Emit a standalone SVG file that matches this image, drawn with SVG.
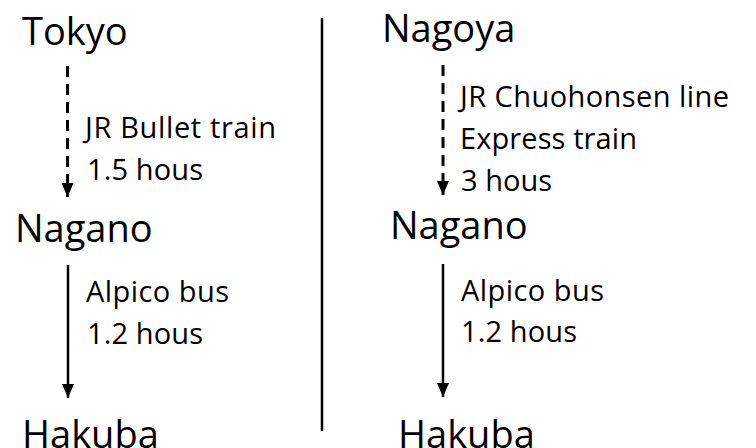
<svg xmlns="http://www.w3.org/2000/svg" width="756" height="448" viewBox="0 0 756 448">
<defs>
<marker id="ah" viewBox="0 0 14 12" refX="14" refY="6" markerWidth="14" markerHeight="12" markerUnits="userSpaceOnUse" orient="auto">
<path d="M0,0 L14,6 L0,12 Z" fill="#000"/>
</marker>
</defs>
<style>
.node{font-family:"Open Sans","Noto Sans",sans-serif;font-size:38px;fill:#000}
.lbl{font-family:"Open Sans","Noto Sans",sans-serif;font-size:29px;fill:#000}
.solid{stroke:#000;stroke-width:2.5;fill:none}
.dash{stroke:#000;stroke-width:3;fill:none;stroke-dasharray:11 7}
</style>
<rect width="756" height="448" fill="#fff"/>
<g id="connectors">
<line class="dash" x1="67.5" y1="66" x2="67.5" y2="197" marker-end="url(#ah)"/>
<line class="solid" x1="68" y1="265" x2="68" y2="398" marker-end="url(#ah)"/>
<line class="dash" x1="443" y1="65" x2="443" y2="195" marker-end="url(#ah)"/>
<line class="solid" x1="443" y1="264" x2="443" y2="397" marker-end="url(#ah)"/>
<line id="divider" class="solid" x1="322" y1="18" x2="322" y2="431"/>
<text class="lbl" x="85" y="138" textLength="191">JR Bullet train</text>
<text class="lbl" x="87" y="180" textLength="116">1.5 hous</text>
<text class="lbl" x="86" y="302" textLength="143">Alpico bus</text>
<text class="lbl" x="87" y="344" textLength="116">1.2 hous</text>
<text class="lbl" x="460" y="107" textLength="269">JR Chuohonsen line</text>
<text class="lbl" x="460" y="149" textLength="177">Express train</text>
<text class="lbl" x="461" y="191" textLength="91">3 hous</text>
<text class="lbl" x="461" y="301" textLength="143">Alpico bus</text>
<text class="lbl" x="461" y="342" textLength="116">1.2 hous</text>
</g>
<g id="tokyo"><text class="node" x="22" y="45">Tokyo</text></g>
<g id="nagano-left"><text class="node" x="15" y="242">Nagano</text></g>
<g id="hakuba-left"><text class="node" x="22" y="448">Hakuba</text></g>
<g id="nagoya"><text class="node" x="382" y="42">Nagoya</text></g>
<g id="nagano-right"><text class="node" x="390" y="239">Nagano</text></g>
<g id="hakuba-right"><text class="node" x="398" y="448">Hakuba</text></g>
</svg>
